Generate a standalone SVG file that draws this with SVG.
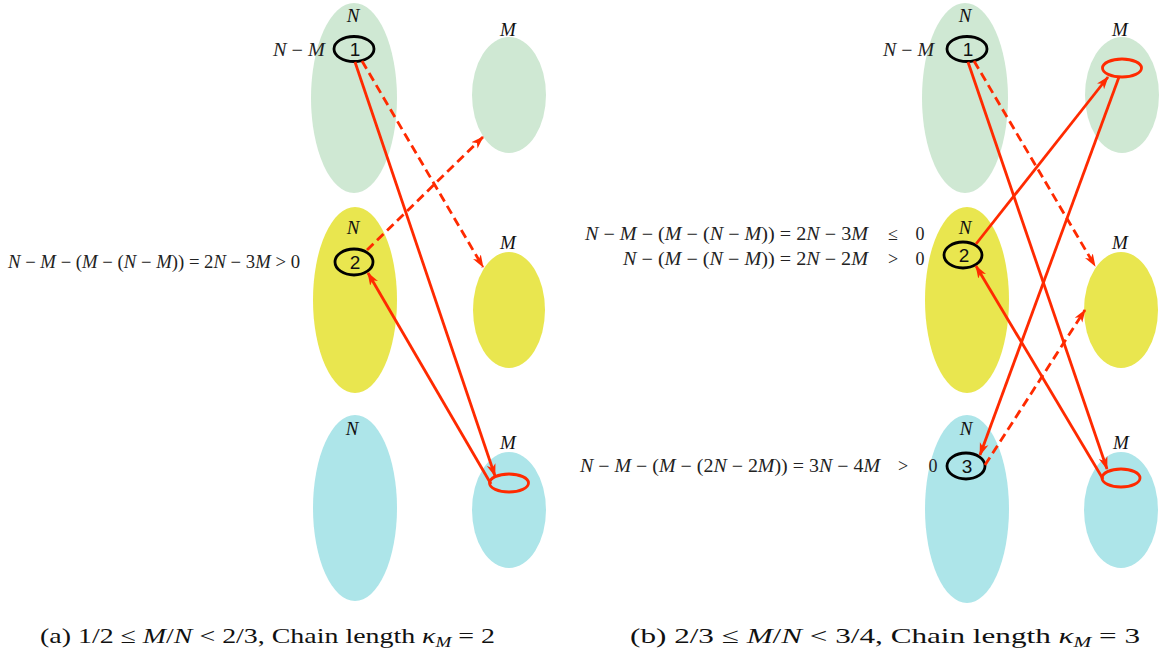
<svg xmlns="http://www.w3.org/2000/svg" width="1159" height="656" viewBox="0 0 1159 656">
<style>
.g{fill:#cfe8d3}
.y{fill:#e9e64f}
.c{fill:#ade5e9}
.lab{font-family:"Liberation Serif",serif;font-style:italic;font-size:19px;fill:#111;text-anchor:middle}
.node{fill:none;stroke:#000;stroke-width:2.8}
.num{font-family:"Liberation Sans",sans-serif;font-size:19px;fill:#111;text-anchor:middle}
.red{fill:none;stroke:#ff2a00;stroke-width:2.8}
.arr{fill:none;stroke:#ff2a00;stroke-width:2.8;marker-end:url(#ah)}
.dash{stroke-dasharray:9 5}
.f{font-family:"Liberation Serif",serif;font-size:18px;fill:#222}
.i{font-style:italic}
.cap{font-family:"Liberation Serif",serif;font-size:22px;fill:#111}
</style>
<defs>
<marker id="ah" viewBox="0 0 13 10" refX="12" refY="5" markerWidth="13" markerHeight="10" markerUnits="userSpaceOnUse" orient="auto">
<path d="M0,0.5 L13,5 L0,9.5 L3.5,5 Z" fill="#ff2a00"/>
</marker>
</defs>
<rect width="1159" height="656" fill="#fff"/>

<!-- Panel (a) -->
<g id="a-green-N"><ellipse class="g" cx="354" cy="98" rx="43" ry="95"/><text class="lab" x="353" y="22">N</text></g>
<g id="a-green-M"><ellipse class="g" cx="509" cy="95" rx="37" ry="58"/><text class="lab" x="508" y="36">M</text></g>
<g id="a-yellow-N"><ellipse class="y" cx="355" cy="300" rx="42" ry="93"/><text class="lab" x="353" y="234">N</text></g>
<g id="a-yellow-M"><ellipse class="y" cx="509" cy="310" rx="36" ry="58"/><text class="lab" x="508" y="249">M</text></g>
<g id="a-cyan-N"><ellipse class="c" cx="355" cy="508" rx="42" ry="93"/><text class="lab" x="352" y="435">N</text></g>
<g id="a-cyan-M"><ellipse class="c" cx="509" cy="510" rx="37" ry="58"/><text class="lab" x="508" y="449">M</text></g>

<g id="a-node1"><ellipse class="node" cx="354" cy="49" rx="20" ry="12.5"/><text class="num" x="355" y="56">1</text>
<text class="f" x="273" y="56" textLength="52" lengthAdjust="spacingAndGlyphs"><tspan class="i">N</tspan> − <tspan class="i">M</tspan></text></g>
<g id="a-node2"><ellipse class="node" cx="354" cy="262" rx="19" ry="13"/><text class="num" x="355" y="269">2</text>
<text class="f" x="8" y="268" textLength="292" lengthAdjust="spacingAndGlyphs"><tspan class="i">N</tspan> − <tspan class="i">M</tspan> − (<tspan class="i">M</tspan> − (<tspan class="i">N</tspan> − <tspan class="i">M</tspan>)) = 2<tspan class="i">N</tspan> − 3<tspan class="i">M</tspan> &gt; 0</text></g>
<g id="a-sub"><ellipse class="red" cx="509" cy="483" rx="19.5" ry="9"/></g>

<!-- Panel (b) -->
<g id="b-green-N"><ellipse class="g" cx="965" cy="98" rx="43" ry="95"/><text class="lab" x="965" y="22">N</text></g>
<g id="b-green-M"><ellipse class="g" cx="1122" cy="95" rx="37" ry="58"/><text class="lab" x="1120" y="36">M</text></g>
<g id="b-yellow-N"><ellipse class="y" cx="967" cy="300" rx="42" ry="93"/><text class="lab" x="965" y="234">N</text></g>
<g id="b-yellow-M"><ellipse class="y" cx="1121" cy="310" rx="37" ry="58"/><text class="lab" x="1120" y="249">M</text></g>
<g id="b-cyan-N"><ellipse class="c" cx="967" cy="509" rx="42" ry="94"/><text class="lab" x="966" y="435">N</text></g>
<g id="b-cyan-M"><ellipse class="c" cx="1121" cy="510" rx="37" ry="58"/><text class="lab" x="1121" y="449">M</text></g>

<g id="b-node1"><ellipse class="node" cx="967" cy="49" rx="20" ry="12.5"/><text class="num" x="968" y="56">1</text>
<text class="f" x="883" y="56" textLength="51" lengthAdjust="spacingAndGlyphs"><tspan class="i">N</tspan> − <tspan class="i">M</tspan></text></g>
<g id="b-node2"><ellipse class="node" cx="963" cy="255" rx="19" ry="13"/><text class="num" x="964" y="262">2</text>
<text class="f" x="585" y="240" textLength="283" lengthAdjust="spacingAndGlyphs"><tspan class="i">N</tspan> − <tspan class="i">M</tspan> − (<tspan class="i">M</tspan> − (<tspan class="i">N</tspan> − <tspan class="i">M</tspan>)) = 2<tspan class="i">N</tspan> − 3<tspan class="i">M</tspan></text>
<text class="f" x="893" y="240" text-anchor="middle">≤</text><text class="f" x="920" y="240" text-anchor="middle">0</text>
<text class="f" x="623" y="265" textLength="245" lengthAdjust="spacingAndGlyphs"><tspan class="i">N</tspan> − (<tspan class="i">M</tspan> − (<tspan class="i">N</tspan> − <tspan class="i">M</tspan>)) = 2<tspan class="i">N</tspan> − 2<tspan class="i">M</tspan></text>
<text class="f" x="893" y="265" text-anchor="middle">&gt;</text><text class="f" x="920" y="265" text-anchor="middle">0</text></g>
<g id="b-node3"><ellipse class="node" cx="966" cy="466" rx="19" ry="13"/><text class="num" x="967" y="473">3</text>
<text class="f" x="580" y="472" textLength="300" lengthAdjust="spacingAndGlyphs"><tspan class="i">N</tspan> − <tspan class="i">M</tspan> − (<tspan class="i">M</tspan> − (2<tspan class="i">N</tspan> − 2<tspan class="i">M</tspan>)) = 3<tspan class="i">N</tspan> − 4<tspan class="i">M</tspan></text>
<text class="f" x="903" y="472" text-anchor="middle">&gt;</text><text class="f" x="933" y="472" text-anchor="middle">0</text></g>
<g id="b-sub-top"><ellipse class="red" cx="1122" cy="68" rx="19.5" ry="9"/></g>
<g id="b-sub-bot"><ellipse class="red" cx="1121" cy="478" rx="19" ry="9"/></g>

<!-- Connectors -->
<g id="connectors">
<line class="arr" x1="355" y1="62" x2="495" y2="476"/>
<line class="arr" x1="491" y1="484" x2="368" y2="273"/>
<line class="arr dash" x1="362" y1="61" x2="483" y2="267"/>
<line class="arr dash" x1="367" y1="250" x2="483" y2="137"/>

<line class="arr" x1="968" y1="62" x2="1107" y2="469"/>
<line class="arr" x1="1103" y1="479" x2="976" y2="266"/>
<line class="arr dash" x1="974" y1="61" x2="1095" y2="266"/>
<line class="arr" x1="976" y1="244" x2="1108" y2="77"/>
<line class="arr" x1="1119" y1="77" x2="980" y2="455"/>
<line class="arr dash" x1="985" y1="465" x2="1085" y2="310"/>
</g>

<!-- Captions -->
<text class="cap" x="40" y="643" textLength="455" lengthAdjust="spacingAndGlyphs">(a) 1/2 ≤ <tspan class="i">M</tspan>/<tspan class="i">N</tspan> &lt; 2/3, Chain length <tspan class="i">κ</tspan><tspan class="i" font-size="15" dy="4">M</tspan><tspan dy="-4"> = 2</tspan></text>
<text class="cap" x="630" y="643" textLength="510" lengthAdjust="spacingAndGlyphs">(b) 2/3 ≤ <tspan class="i">M</tspan>/<tspan class="i">N</tspan> &lt; 3/4, Chain length <tspan class="i">κ</tspan><tspan class="i" font-size="15" dy="4">M</tspan><tspan dy="-4"> = 3</tspan></text>
</svg>
